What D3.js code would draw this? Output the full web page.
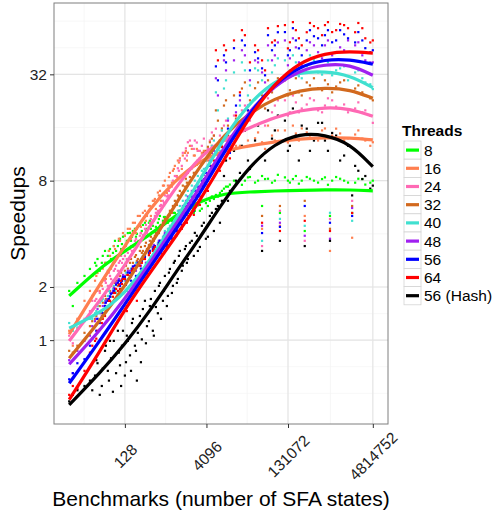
<!DOCTYPE html>
<html>
<head>
<meta charset="utf-8">
<script src="https://cdn.jsdelivr.net/npm/d3@7"></script>
<style>
  body { margin: 0; background: #fff; }
  text { font-family: 'Liberation Sans', Arial, sans-serif; }
</style>
</head>
<body>
<div id="chart"></div>
<script>
let threads = ['8', '16', '24', '32', '40', '48', '56', '64', '56 (Hash)']
let colors = ['#00ff00', '#ff7f50', '#ff69b4', '#d2691e', '#40e0d0', '#a020f0', '#0000ff', '#ff0000', '#000000']
let xTicks = [128, 4096, 131072, 4814752]
let yTicks = [1, 2, 8, 32]

// number of SFA states of each benchmark
let benchStates = [12, 14, 17, 23, 29, 36, 40, 48, 55, 62, 68, 77, 84, 95, 104, 113, 128, 139, 159, 173,
  196, 213, 242, 263, 300, 327, 370, 420, 458, 520, 568, 645, 700, 795, 867, 985, 1070, 1215, 1323, 1500,
  1710, 1860, 2200, 2500, 2840, 3370, 4000, 4740, 5620, 6670, 7900, 9400, 11100, 13200, 17000, 21000, 23900, 32300, 43500, 56000,
  75000, 93000, 115000, 142000, 183000, 235000, 267000, 333000, 470000, 630000, 855000, 1200000, 1680000, 2000000, 2600000, 3500000, 4814752,
  32, 38, 44, 50, 57, 65, 71, 80, 88, 99, 109, 118, 134, 145, 166, 180, 205, 222, 253, 275,
  313, 355, 386, 438, 478, 543, 593, 673, 762, 831, 944, 1025, 1164, 1268, 1438, 1640, 1784, 2030, 2396, 2722,
  3100, 3670, 4356, 5162, 6120, 7270, 8626, 10224, 14370, 18500, 26000, 36700, 49400, 66400, 85200, 130600, 161300, 207900, 290800, 394700,
  557000, 715600, 1013000, 1422000, 2272000, 3081000, 4326000, 43500, 780000]

let speed8 = [1.9, 1.56, 2.11, 2.31, 2.53, 2.74, 2.88, 2.74, 3.2, 3.0, 3.28, 3.12, 3.65, 3.41, 3.75, 3.5, 3.9, 3.65, 4.05, 3.85,
  4.27, 4.0, 4.44, 4.15, 4.62, 4.27, 4.74, 4.44, 4.86, 4.62, 5.05, 4.74, 4.98, 4.62, 5.1, 4.86, 5.25, 4.98, 5.4, 5.1,
  5.55, 5.25, 5.6, 5.4, 5.8, 5.55, 5.97, 6.15, 6.3, 6.5, 7.0, 7.4, 7.6, 8.0, 8.2, 8.0, 8.35, 7.8, 8.5, 8.2,
  8.0, 5.25, 8.35, 7.8, 8.5, 8.0, 4.15, 8.2, 7.8, 8.35, 8.0, 8.2, 7.8, 5.25, 8.2, 7.6, 8.0,
  2.31, 2.64, 2.47, 3.0, 2.74, 3.2, 2.88, 3.41, 3.2, 3.65, 3.28, 3.85, 3.46, 4.04, 3.65, 4.15, 3.85, 4.38, 4.04, 4.49,
  4.15, 4.62, 4.27, 4.74, 4.38, 4.85, 4.49, 4.98, 4.62, 5.12, 4.74, 5.26, 4.85, 5.4, 4.98, 5.53, 5.12, 5.68, 5.26, 5.83,
  5.4, 6.15, 5.75, 6.51, 6.64, 6.82, 7.21, 7.4, 7.79, 7.58, 8.39, 8.0, 8.17, 7.79, 8.63, 8.0, 8.17, 7.69, 8.39, 8.0,
  8.17, 7.58, 8.39, 8.0, 7.79, 8.17, 7.79, 5.75, 5.05]
let speed16 = [1.13, 0.93, 1.32, 1.67, 1.9, 2.17, 2.4, 2.03, 2.74, 2.47, 3.0, 2.74, 3.28, 3.0, 3.65, 3.2, 3.9, 3.55, 4.27, 3.9,
  4.62, 4.27, 5.05, 4.74, 5.4, 5.05, 5.75, 6.15, 6.3, 6.85, 7.0, 7.5, 8.0, 7.5, 8.85, 9.1, 9.7, 10.4, 10.7, 11.1,
  11.8, 11.5, 12.1, 11.1, 11.8, 11.5, 10.4, 11.8, 12.1, 11.1, 12.6, 13.5, 11.8, 14.4, 12.6, 15.4, 13.5, 13.9, 13.2, 16.4,
  13.5, 4.44, 15.4, 13.9, 14.8, 15.8, 5.05, 14.4, 13.5, 15.8, 14.4, 14.8, 13.9, 3.8, 15.4, 13.5, 13.2,
  1.78, 2.31, 1.9, 2.54, 2.22, 3.2, 2.54, 3.41, 2.88, 3.75, 3.2, 4.04, 3.41, 4.27, 3.75, 4.62, 4.04, 5.05, 4.38, 5.26,
  4.74, 5.75, 5.05, 6.15, 5.53, 6.6, 6.15, 7.5, 6.82, 8.39, 7.79, 9.32, 8.5, 10.13, 9.32, 11.49, 10.4, 12.6, 11.1, 12.1,
  10.67, 11.8, 10.4, 12.6, 11.49, 13.5, 11.8, 13.15, 12.6, 15.76, 12.6, 15.0, 12.1, 14.4, 15.4, 13.15, 16.4, 13.5, 15.0, 13.84,
  15.4, 14.21, 15.76, 13.5, 14.6, 13.84, 12.6, 4.27, 3.2]
let speed24 = [1.06, 0.96, 1.16, 1.32, 1.46, 1.67, 1.9, 1.71, 2.17, 2.03, 2.31, 2.17, 2.53, 2.47, 2.81, 2.74, 3.0, 2.88, 3.28, 3.2,
  3.65, 3.41, 3.9, 3.75, 4.27, 4.05, 4.62, 4.74, 5.05, 5.4, 5.75, 6.15, 6.6, 6.6, 7.5, 8.0, 8.5, 9.4, 10.4, 11.5,
  12.2, 13.2, 12.6, 13.5, 11.8, 12.6, 11.5, 13.5, 14.4, 12.6, 15.4, 17.5, 13.9, 18.7, 16.4, 21.3, 15.8, 20.0, 17.0, 23.4,
  21.3, 5.4, 22.8, 19.5, 22.2, 20.5, 3.65, 23.4, 20.0, 21.3, 22.8, 20.5, 19.5, 6.15, 22.2, 20.0, 17.0,
  1.67, 1.71, 1.85, 1.95, 2.11, 2.41, 2.22, 2.47, 2.64, 2.74, 3.0, 2.88, 3.2, 3.12, 3.41, 3.37, 3.75, 3.65, 4.04, 3.93,
  4.49, 4.38, 4.85, 4.74, 5.26, 5.26, 5.83, 5.99, 6.51, 7.0, 7.4, 7.79, 8.39, 9.1, 9.7, 10.67, 11.1, 13.5, 12.1, 13.15,
  11.8, 13.84, 12.1, 15.0, 15.76, 14.4, 16.4, 13.5, 15.4, 20.0, 17.5, 21.3, 16.4, 19.5, 22.8, 18.7, 24.3, 19.5, 21.6, 22.8,
  19.5, 23.4, 21.0, 21.6, 20.5, 19.5, 18.7, 3.41, 4.85]
let speed32 = [0.87, 0.85, 0.93, 1.1, 1.2, 1.32, 1.56, 1.42, 1.78, 1.67, 1.9, 1.85, 2.11, 2.03, 2.31, 2.17, 2.47, 2.34, 2.74, 2.53,
  2.96, 2.81, 3.2, 3.12, 3.41, 3.28, 3.65, 3.75, 3.9, 4.15, 4.44, 4.62, 4.86, 5.05, 5.4, 5.75, 6.15, 6.6, 7.0, 7.5,
  8.2, 8.85, 9.4, 9.7, 10.4, 11.1, 11.8, 13.2, 14.4, 17.5, 15.8, 22.8, 13.9, 24.3, 18.7, 28.8, 20.0, 26.7, 24.3, 29.6,
  27.7, 5.75, 29.6, 26.0, 30.4, 24.3, 6.15, 27.7, 26.7, 29.6, 25.3, 28.8, 26.0, 5.75, 27.7, 24.3, 22.8,
  1.28, 1.37, 1.56, 1.63, 1.71, 1.9, 2.03, 1.95, 2.17, 2.22, 2.41, 2.28, 2.64, 2.54, 2.88, 2.74, 3.03, 2.88, 3.37, 3.2,
  3.56, 3.46, 3.85, 3.65, 4.04, 4.04, 4.38, 4.49, 4.74, 5.12, 5.26, 5.68, 5.83, 6.51, 6.82, 7.4, 7.79, 8.39, 8.86, 9.86,
  10.13, 11.49, 12.44, 13.84, 20.0, 13.5, 21.3, 16.4, 17.97, 26.6, 22.8, 28.8, 20.5, 25.3, 30.4, 24.3, 31.6, 25.3, 28.8, 30.4,
  26.0, 28.1, 27.3, 29.6, 26.6, 25.3, 23.4, 5.05, 4.27]
let speed40 = [1.25, 1.13, 1.18, 1.28, 1.32, 1.42, 1.56, 1.67, 1.67, 1.78, 1.85, 1.95, 1.9, 2.11, 2.03, 2.22, 2.17, 1.9, 2.31, 2.47,
  2.53, 2.17, 2.74, 2.88, 3.0, 2.64, 3.2, 3.37, 3.41, 3.55, 3.65, 3.85, 4.15, 4.27, 4.44, 4.86, 5.05, 5.4, 5.75, 6.15,
  6.6, 7.0, 7.5, 8.0, 8.5, 9.1, 10.4, 11.8, 13.5, 20.0, 15.4, 29.6, 12.6, 32.8, 21.3, 33.7, 24.3, 34.6, 29.6, 38.4,
  36.0, 4.86, 38.4, 33.7, 37.4, 30.4, 4.44, 41.0, 32.8, 36.0, 31.6, 34.6, 29.6, 4.74, 33.7, 28.8, 26.4,
  1.32, 1.46, 1.63, 1.71, 1.54, 1.9, 1.76, 2.03, 1.85, 2.17, 1.95, 2.28, 2.41, 2.22, 2.54, 2.41, 2.74, 2.64, 2.88, 3.0,
  2.74, 3.12, 3.37, 3.46, 3.2, 3.65, 3.41, 3.9, 3.75, 4.27, 4.04, 4.62, 4.49, 5.26, 5.05, 5.75, 5.53, 6.51, 6.15, 7.5,
  7.0, 9.32, 8.5, 12.6, 25.3, 11.8, 26.6, 17.97, 17.5, 37.4, 27.7, 33.7, 26.0, 32.8, 39.4, 31.6, 41.0, 31.2, 35.5, 38.4,
  31.9, 37.4, 33.7, 35.5, 32.8, 30.4, 28.1, 3.65, 5.26]
let speed48 = [0.77, 0.65, 0.87, 0.99, 1.06, 1.28, 1.5, 1.37, 1.62, 1.71, 1.78, 1.9, 1.95, 2.17, 2.08, 2.22, 2.31, 1.67, 2.47, 2.53,
  2.64, 2.03, 2.81, 2.88, 3.0, 2.53, 3.2, 3.37, 3.41, 3.46, 3.65, 3.75, 4.05, 4.05, 4.27, 4.62, 4.74, 5.05, 5.4, 5.75,
  6.15, 6.5, 7.0, 7.4, 7.8, 8.5, 9.4, 10.4, 11.8, 24.3, 13.9, 33.7, 12.1, 38.4, 22.8, 41.0, 21.3, 38.4, 32.8, 46.7,
  41.0, 4.62, 49.8, 39.4, 45.5, 36.0, 3.9, 48.6, 42.7, 46.7, 41.0, 45.5, 49.8, 5.6, 48.6, 38.4, 37.4,
  1.2, 1.32, 1.42, 1.56, 1.67, 1.71, 1.85, 1.98, 2.11, 2.22, 1.9, 2.34, 2.17, 2.47, 2.28, 2.61, 2.47, 2.74, 2.64, 2.96,
  2.74, 3.2, 2.96, 3.46, 3.12, 3.65, 3.28, 3.85, 3.56, 4.15, 3.85, 4.49, 4.27, 4.98, 4.74, 5.53, 5.12, 6.15, 5.68, 7.0,
  6.51, 8.63, 8.0, 11.49, 30.4, 10.4, 38.4, 17.5, 19.5, 43.8, 29.6, 37.4, 28.8, 38.4, 48.5, 36.0, 51.2, 37.4, 43.8, 46.7,
  39.4, 49.8, 42.7, 43.8, 46.7, 41.0, 37.4, 4.44, 3.75]
let speed56 = [0.6, 0.65, 0.74, 0.78, 0.93, 1.06, 1.32, 1.46, 1.56, 1.67, 1.76, 1.85, 1.95, 2.11, 2.03, 2.17, 2.28, 1.56, 2.4, 2.53,
  2.64, 1.9, 2.74, 2.81, 2.96, 2.4, 3.2, 3.28, 3.41, 3.37, 3.65, 3.65, 3.95, 3.85, 4.15, 4.38, 4.62, 4.74, 5.1, 5.4,
  5.75, 5.97, 6.5, 7.0, 7.4, 8.0, 8.85, 9.7, 11.1, 29.6, 13.5, 37.4, 11.5, 45.0, 24.3, 46.7, 20.0, 42.7, 34.6, 53.3,
  46.7, 4.38, 55.5, 43.8, 49.8, 41.0, 5.75, 56.9, 51.2, 53.3, 48.6, 56.9, 51.2, 5.05, 55.5, 45.0, 43.8,
  1.02, 1.13, 1.25, 1.42, 1.63, 1.71, 1.83, 1.9, 2.06, 2.17, 2.11, 2.28, 2.06, 2.41, 2.17, 2.61, 2.31, 2.74, 2.54, 2.88,
  2.64, 3.12, 2.81, 3.37, 3.0, 3.56, 3.2, 3.75, 3.46, 4.04, 3.75, 4.27, 4.15, 4.85, 4.49, 5.26, 4.85, 5.83, 5.4, 6.64,
  6.15, 8.17, 7.5, 10.67, 35.5, 9.7, 41.0, 15.76, 21.3, 49.8, 33.7, 39.4, 31.6, 43.8, 55.4, 41.0, 58.4, 44.9, 49.8, 52.6,
  46.7, 56.9, 49.8, 53.9, 48.5, 49.8, 42.7, 4.04, 4.62]
let speed64 = [0.49, 0.55, 0.53, 0.67, 0.85, 0.99, 1.13, 1.25, 1.37, 1.56, 1.67, 1.76, 1.85, 1.9, 1.95, 2.08, 2.22, 1.46, 2.31, 2.47,
  2.53, 1.67, 2.64, 2.74, 2.88, 2.28, 3.12, 3.2, 3.37, 3.28, 3.55, 3.46, 3.85, 3.65, 4.05, 4.15, 4.44, 4.62, 4.86, 5.1,
  5.4, 5.6, 6.15, 6.5, 7.0, 7.5, 8.2, 9.1, 10.4, 38.4, 12.4, 43.8, 10.7, 49.8, 25.3, 53.3, 17.5, 46.7, 38.4, 58.4,
  49.8, 4.15, 60.8, 48.6, 56.9, 46.7, 4.74, 62.5, 58.4, 60.8, 55.5, 61.7, 58.4, 5.25, 62.5, 51.2, 49.8,
  0.93, 1.02, 1.15, 1.32, 1.46, 1.67, 1.63, 1.85, 1.95, 2.06, 2.17, 2.22, 1.9, 2.34, 2.06, 2.54, 2.17, 2.66, 2.41, 2.88,
  2.54, 3.03, 2.74, 3.28, 2.88, 3.46, 3.12, 3.65, 3.37, 3.93, 3.65, 4.15, 3.93, 4.62, 4.27, 5.05, 4.62, 5.53, 5.12, 6.34,
  5.83, 7.79, 7.0, 9.7, 43.8, 9.1, 46.7, 14.4, 18.7, 56.9, 37.4, 43.8, 33.7, 48.5, 60.0, 44.9, 63.2, 51.2, 55.4, 60.0,
  53.3, 63.2, 56.9, 60.8, 55.4, 58.4, 48.5, 4.62, 4.15]
let speedHash = [0.45, 0.49, 0.52, 0.55, 0.59, 0.63, 0.74, 0.55, 0.87, 0.67, 0.99, 0.51, 0.82, 1.13, 0.72, 0.93, 0.63, 1.06, 0.82, 1.25,
  0.93, 0.59, 1.37, 1.01, 1.67, 1.2, 1.56, 1.13, 1.9, 1.42, 2.11, 1.67, 2.31, 1.78, 2.53, 2.03, 2.81, 2.22, 3.2, 2.64,
  3.41, 2.88, 3.65, 4.05, 3.2, 4.44, 3.75, 5.05, 4.15, 5.75, 6.15, 10.4, 7.0, 11.8, 8.85, 15.4, 10.4, 13.5, 11.1, 20.0,
  15.4, 3.65, 17.5, 12.6, 14.4, 16.4, 3.41, 11.8, 17.0, 13.5, 14.9, 10.4, 12.6, 6.6, 9.1, 8.5, 7.5,
  0.52, 0.77, 0.49, 0.69, 0.93, 0.59, 0.79, 0.99, 0.65, 0.85, 0.55, 1.13, 0.75, 0.99, 0.67, 1.32, 0.87, 1.1, 0.75, 1.5,
  0.96, 1.28, 1.71, 1.06, 1.54, 2.03, 1.32, 1.9, 1.56, 2.41, 1.85, 2.74, 2.11, 3.0, 2.47, 3.28, 2.74, 3.56, 3.0, 3.9,
  3.37, 4.62, 3.85, 5.26, 5.53, 4.62, 8.5, 6.15, 8.0, 12.6, 9.32, 16.4, 10.4, 13.84, 18.7, 11.8, 20.5, 10.4, 15.76, 13.5,
  17.0, 11.8, 14.4, 11.1, 9.7, 8.17, 7.21, 3.2, 3.65]

// smoothed fits
let fitStates = [12, 44, 128, 370, 1070, 3100, 9000, 26000, 75000, 218000, 630000, 1830000, 4814752]
let fit8 = [1.78, 2.57, 3.2, 3.95, 5.05, 6.15, 6.8, 6.9, 7.0, 7.05, 7.1, 7.1, 7.0]
let fit16 = [1.08, 2.08, 3.41, 5.6, 8.0, 10.4, 11.9, 12.6, 13.3, 13.8, 14.0, 14.0, 13.6]
let fit24 = [0.99, 1.67, 2.64, 4.44, 7.2, 11.1, 13.8, 16, 18.3, 20, 20.8, 20.5, 18.5]
let fit32 = [0.79, 1.28, 2.03, 3.41, 5.8, 9.7, 14.8, 19.4, 23.4, 26, 26.9, 26.3, 23.4]
let fit40 = [1.17, 1.42, 1.83, 2.81, 4.76, 8.0, 14.4, 22.2, 29.6, 32.9, 33.3, 31.6, 26.9]
let fit48 = [0.73, 1.13, 1.71, 2.73, 4.44, 7.3, 12.6, 20, 27.7, 33.8, 36.5, 36.5, 31.6]
let fit56 = [0.57, 0.99, 1.6, 2.57, 4.17, 6.7, 11.9, 19.4, 28.5, 35.5, 38.9, 38.9, 36.5]
let fit64 = [0.46, 0.86, 1.5, 2.4, 3.8, 6.15, 10.7, 18.7, 28.5, 37.5, 42.2, 43.2, 42.2]
let fitHash = [0.43, 0.65, 0.95, 1.46, 2.38, 3.8, 6.3, 9.7, 13.0, 14.8, 14.6, 13.0, 9.6]

let speeds = [speed8, speed16, speed24, speed32, speed40, speed48, speed56, speed64, speedHash]
let fits = [fit8, fit16, fit24, fit32, fit40, fit48, fit56, fit64, fitHash]

let margin = { top: 3, left: 54, right: 109, bottom: 90 }
let width = 497 - margin.left - margin.right
let height = 514 - margin.top - margin.bottom

let svg = d3
  .select('#chart')
  .append('svg')
  .attr('width', 497)
  .attr('height', 514)

let g = svg
  .append('g')
  .attr('transform', 'translate(' + margin.left + ',' + margin.top + ')')

// ggplot style limits: data range in log2 space, expanded by 5%
function expand(values) {
  let lo = Math.log2(d3.min(values))
  let hi = Math.log2(d3.max(values))
  let pad = (hi - lo) * 0.05
  return [2 ** (lo - pad), 2 ** (hi + pad)]
}

let xScale = d3.scaleLog().base(2).domain(expand(benchStates.concat(fitStates))).range([0, width])
let yScale = d3
  .scaleLog()
  .base(2)
  .domain(expand(speeds.flat().concat(fits.flat())))
  .range([height, 0])

function minorBreaks(breaks, domain) {
  let b = breaks.map(Math.log2)
  let bd = b[1] - b[0]
  let lo = Math.log2(domain[0])
  let hi = Math.log2(domain[1])
  if (lo < b[0]) b.unshift(b[0] - bd)
  if (hi > b[b.length - 1]) b.push(b[b.length - 1] + bd)
  let out = b.slice()
  for (let i = 0; i < b.length - 1; i++) out.push((b[i] + b[i + 1]) / 2)
  return out.filter(v => v >= lo && v <= hi).map(v => 2 ** v)
}

g.selectAll('.minor-x')
  .data(minorBreaks(xTicks, xScale.domain()))
  .enter()
  .append('line')
  .attr('x1', d => xScale(d))
  .attr('x2', d => xScale(d))
  .attr('y1', 0)
  .attr('y2', height)
  .attr('stroke', '#f4f4f4')
  .attr('stroke-width', 0.7)

g.selectAll('.minor-y')
  .data(minorBreaks(yTicks, yScale.domain()))
  .enter()
  .append('line')
  .attr('y1', d => yScale(d))
  .attr('y2', d => yScale(d))
  .attr('x1', 0)
  .attr('x2', width)
  .attr('stroke', '#f4f4f4')
  .attr('stroke-width', 0.7)

g.selectAll('.major-x')
  .data(xTicks)
  .enter()
  .append('line')
  .attr('x1', d => xScale(d))
  .attr('x2', d => xScale(d))
  .attr('y1', 0)
  .attr('y2', height)
  .attr('stroke', '#e4e4e4')
  .attr('stroke-width', 1.1)

g.selectAll('.major-y')
  .data(yTicks)
  .enter()
  .append('line')
  .attr('y1', d => yScale(d))
  .attr('y2', d => yScale(d))
  .attr('x1', 0)
  .attr('x2', width)
  .attr('stroke', '#e4e4e4')
  .attr('stroke-width', 1.1)

// points
threads.forEach((t, k) => {
  g.append('g')
    .selectAll('rect')
    .data(benchStates.map((s, i) => ({ states: s, speed: speeds[k][i] })))
    .enter()
    .append('rect')
    .attr('x', d => xScale(d.states) - 1.1)
    .attr('y', d => yScale(d.speed) - 1.1)
    .attr('width', 2.2)
    .attr('height', 2.2)
    .attr('fill', colors[k])
})

// smooth lines
let line = d3
  .line()
  .x(d => xScale(d.states))
  .y(d => yScale(d.speed))
  .curve(d3.curveBasis)

threads.forEach((t, k) => {
  g.append('path')
    .datum(fitStates.map((s, i) => ({ states: s, speed: fits[k][i] })))
    .attr('d', line)
    .attr('fill', 'none')
    .attr('stroke', colors[k])
    .attr('stroke-width', 3.2)
})

g.append('rect')
  .attr('width', width)
  .attr('height', height)
  .attr('fill', 'none')
  .attr('stroke', '#7f7f7f')
  .attr('stroke-width', 1)

// axes
let xAxis = g
  .append('g')
  .attr('transform', 'translate(0,' + height + ')')
  .call(d3.axisBottom(xScale).tickValues(xTicks).tickFormat(d3.format('d')).tickSizeOuter(0).tickSize(4))

xAxis.select('.domain').remove()
xAxis.selectAll('line').attr('stroke', '#333')
xAxis
  .selectAll('text')
  .attr('y', 0)
  .attr('dy', 0)
  .attr('text-anchor', 'middle')
  .attr('dominant-baseline', 'central')
  .attr('transform', 'translate(0,32) rotate(-45)')
  .attr('font-size', 15.5)
  .attr('fill', '#222')
  .attr('font-family', null)

let yAxis = g
  .append('g')
  .call(d3.axisLeft(yScale).tickValues(yTicks).tickFormat(d3.format('d')).tickSizeOuter(0).tickSize(4))

yAxis.select('.domain').remove()
yAxis.selectAll('line').attr('stroke', '#333')
yAxis
  .selectAll('text')
  .attr('x', -7)
  .attr('font-size', 15.5)
  .attr('fill', '#222')
  .attr('font-family', null)

svg
  .append('text')
  .text('Benchmarks (number of SFA states)')
  .attr('x', margin.left + width / 2)
  .attr('y', 506)
  .attr('text-anchor', 'middle')
  .attr('font-size', 21)
  .attr('fill', '#000')

svg
  .append('text')
  .text('Speedups')
  .attr('transform', 'translate(25,' + (margin.top + height / 2) + ') rotate(-90)')
  .attr('text-anchor', 'middle')
  .attr('font-size', 21)
  .attr('fill', '#000')

// legend
let legend = svg.append('g').attr('transform', 'translate(404, 141)')

legend
  .append('text')
  .text('Threads')
  .attr('x', -2)
  .attr('y', -5)
  .attr('font-size', 15.5)
  .attr('font-weight', 'bold')

legend
  .selectAll('.legend-entry')
  .data(threads)
  .enter()
  .append('g')
  .attr('class', 'legend-entry')
  .attr('transform', (d, i) => `translate(0,${i * 18.2})`)
  .each(function(d, i) {
    let e = d3.select(this)

    e.append('rect')
      .attr('width', 17)
      .attr('height', 18.2)
      .attr('fill', '#fff')
      .attr('stroke', '#d4d4d4')
      .attr('stroke-width', 0.8)

    e.append('line')
      .attr('x1', 2)
      .attr('x2', 15)
      .attr('y1', 9.1)
      .attr('y2', 9.1)
      .attr('stroke', colors[i])
      .attr('stroke-width', 3.2)

    e.append('text')
      .text(d)
      .attr('x', 20)
      .attr('y', 9.1)
      .attr('dominant-baseline', 'central')
      .attr('font-size', 15.5)
  })
</script>
</body>
</html>
